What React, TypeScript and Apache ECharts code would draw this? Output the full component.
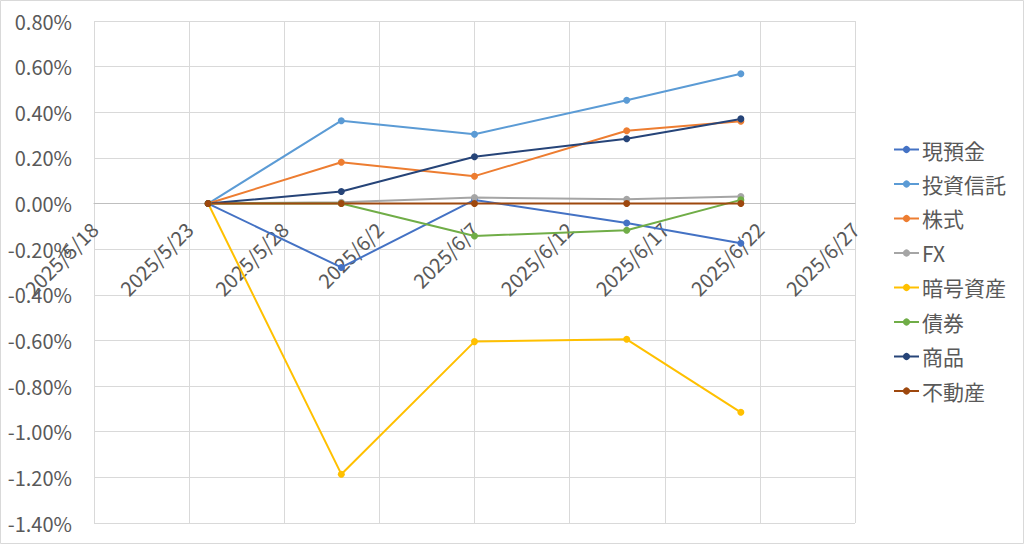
import React, { useEffect, useRef } from "react";
import * as echarts from "echarts";

const AXIS_START = "2025/5/18";
const AXIS_END = "2025/6/27";
const TICK_DAYS = 5;

const dates = ["2025/5/24", "2025/5/31", "2025/6/7", "2025/6/15", "2025/6/21"];

const seriesNames = ["現預金", "投資信託", "株式", "FX", "暗号資産", "債券", "商品", "不動産"];

// values in percent
const cash = [0, -0.28, 0.016, -0.085, -0.174];
const funds = [0, 0.363, 0.304, 0.453, 0.569];
const stocks = [0, 0.181, 0.12, 0.319, 0.361];
const fx = [0, 0.006, 0.026, 0.019, 0.031];
const crypto = [0, -1.186, -0.605, -0.595, -0.915];
const bonds = [0, 0, -0.142, -0.117, 0.016];
const commodities = [0, 0.053, 0.205, 0.284, 0.371];
const realEstate = [0, 0, 0, 0, 0];

const seriesValues = [cash, funds, stocks, fx, crypto, bonds, commodities, realEstate];
const seriesColors = ["#4472C4", "#5B9BD5", "#ED7D31", "#A5A5A5", "#FFC000", "#70AD47", "#264478", "#9E480E"];

const yMin = -1.4;
const yMax = 0.8;
const yStep = 0.2;

const DAY = 86400000;
function toUTC(s: string) {
  const [y, m, d] = s.split("/").map(Number);
  return Date.UTC(y, m - 1, d);
}
const startT = toUTC(AXIS_START);
function dayIndex(s: string) {
  return Math.round((toUTC(s) - startT) / DAY);
}
function dayLabel(v: number) {
  const dt = new Date(startT + Math.round(v) * DAY);
  return `${dt.getUTCFullYear()}/${dt.getUTCMonth() + 1}/${dt.getUTCDate()}`;
}

const FONT = '"Noto Sans CJK JP", "Noto Sans", sans-serif';
const W = 1024;
const H = 544;
const GRID = { left: 94, right: 169, top: 21, bottom: 21 };

export default function App() {
  const ref = useRef<HTMLDivElement>(null);
  useEffect(() => {
    if (!ref.current) return;
    const chart = echarts.init(ref.current, undefined, { renderer: "svg" });
    const plotH = H - GRID.top - GRID.bottom;
    const zeroFromBottom = ((0 - yMin) / (yMax - yMin)) * plotH;
    chart.setOption({
      animation: false,
      textStyle: { fontFamily: FONT },
      graphic: [
        {
          type: "rect",
          shape: { x: 0.5, y: 0.5, width: W - 1, height: H - 1 },
          style: { fill: "none", stroke: "#d9d9d9", lineWidth: 1 },
          silent: true,
        },
      ],
      grid: { ...GRID, containLabel: false },
      legend: {
        orient: "vertical",
        left: 893,
        top: 139,
        padding: 0,
        itemWidth: 25,
        itemHeight: 9,
        itemGap: 13.5,
        textStyle: { fontSize: 21, color: "#595959", lineHeight: 20, fontFamily: FONT, padding: [0, 0, 0, -2] },
        data: seriesNames,
      },
      xAxis: {
        type: "value",
        min: 0,
        max: dayIndex(AXIS_END),
        interval: TICK_DAYS,
        position: "bottom",
        offset: -zeroFromBottom,
        axisLine: { onZero: false, lineStyle: { color: "#BFBFBF", width: 1 } },
        axisTick: { show: false },
        splitLine: { show: true, lineStyle: { color: "#D9D9D9", width: 1 } },
        axisLabel: {
          rotate: 45,
          margin: 22,
          fontSize: 20,
          color: "#595959",
          fontFamily: FONT,
          formatter: (v: number) => dayLabel(v),
        },
      },
      yAxis: {
        type: "value",
        min: yMin,
        max: yMax,
        interval: yStep,
        axisLine: { show: false, onZero: false },
        axisTick: { show: false },
        splitLine: { show: true, lineStyle: { color: "#D9D9D9", width: 1 } },
        axisLabel: {
          margin: 22,
          fontSize: 20,
          color: "#595959",
          fontFamily: FONT,
          formatter: (v: number) => {
            const x = Math.abs(v) < 1e-9 ? 0 : v;
            return `${x.toFixed(2)}%`;
          },
        },
      },
      series: seriesNames.map((name, i) => ({
        name,
        type: "line",
        data: dates.map((d, j) => [dayIndex(d), seriesValues[i][j]]),
        symbol: "circle",
        symbolSize: 7,
        lineStyle: { width: 2, color: seriesColors[i] },
        itemStyle: { color: seriesColors[i] },
        color: seriesColors[i],
      })),
    });
    return () => chart.dispose();
  }, []);
  return (
    <div
      ref={ref}
      style={{ position: "fixed", left: 0, top: 0, width: W, height: H, background: "#fff" }}
    />
  );
}
